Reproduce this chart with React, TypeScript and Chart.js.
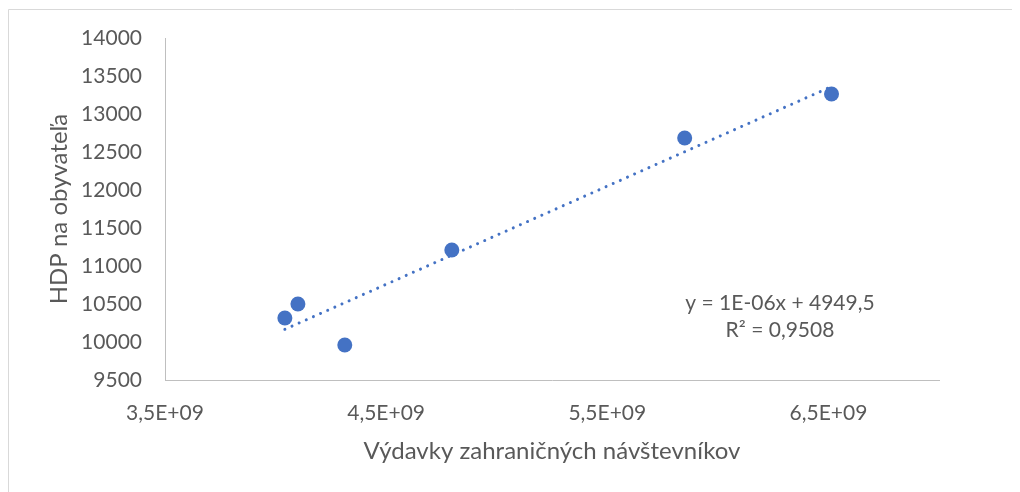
import React, { useEffect, useRef } from "react";
import { Chart, registerables } from "chart.js";

Chart.register(...registerables);

// Data
const spending: number[] = [4.042e9, 4.101e9, 4.313e9, 4.797e9, 5.85e9, 6.514e9];
const gdpPerCapita: number[] = [10316, 10500, 9961, 11211, 12684, 13263];

const xTickValues: number[] = [3.5e9, 4.5e9, 5.5e9, 6.5e9];
const xTickLabels: string[] = ["3,5E+09", "4,5E+09", "5,5E+09", "6,5E+09"];
const xMin = 3.5e9;
const xMax = 7.0e9;
const yMin = 9500;
const yMax = 14000;
const yStep = 500;

const xTitle = "Výdavky zahraničných návštevníkov";
const yTitle = "HDP na obyvateľa";
const equationLines: string[] = ["y = 1E-06x + 4949,5", "R² = 0,9508"];

const BLUE = "#4472C4";
const GREY_TEXT = "#595959";
const FONT = "Lato, 'Open Sans', sans-serif";

function linearFit(xs: number[], ys: number[]) {
  const n = xs.length;
  const mx = xs.reduce((a, b) => a + b, 0) / n;
  const my = ys.reduce((a, b) => a + b, 0) / n;
  let sxy = 0;
  let sxx = 0;
  for (let i = 0; i < n; i++) {
    sxy += (xs[i] - mx) * (ys[i] - my);
    sxx += (xs[i] - mx) * (xs[i] - mx);
  }
  const slope = sxy / sxx;
  return { slope, intercept: my - slope * mx };
}

export default function App() {
  const ref = useRef<HTMLCanvasElement | null>(null);

  useEffect(() => {
    if (!ref.current) return;
    const fit = linearFit(spending, gdpPerCapita);
    const x0 = Math.min(...spending);
    const x1 = Math.max(...spending);
    const trend = [
      { x: x0, y: fit.slope * x0 + fit.intercept },
      { x: x1, y: fit.slope * x1 + fit.intercept },
    ];

    const framePlugin = {
      id: "frame",
      beforeDraw(chart: any) {
        const { ctx, width, height } = chart;
        ctx.save();
        ctx.fillStyle = "#ffffff";
        ctx.fillRect(0, 0, width, height);
        ctx.strokeStyle = "#d9d9d9";
        ctx.lineWidth = 1;
        ctx.beginPath();
        ctx.moveTo(0.5, height);
        ctx.lineTo(0.5, 1.5);
        ctx.lineTo(width, 1.5);
        ctx.stroke();
        ctx.restore();
      },
      afterDraw(chart: any) {
        const { ctx } = chart;
        ctx.save();
        ctx.fillStyle = GREY_TEXT;
        ctx.font = `21px ${FONT}`;
        ctx.textAlign = "center";
        ctx.textBaseline = "middle";
        ctx.fillText(equationLines[0], 772, 295);
        ctx.fillText(equationLines[1], 772, 322);
        ctx.restore();
      },
    };

    const chart = new Chart(ref.current, {
      type: "scatter",
      data: {
        datasets: [
          {
            label: "trend",
            data: trend,
            showLine: true,
            borderColor: BLUE,
            borderWidth: 3,
            borderDash: [0.01, 7.8],
            borderCapStyle: "round",
            pointRadius: 0,
            fill: false,
            order: 2,
          } as any,
          {
            label: "data",
            data: spending.map((x, i) => ({ x, y: gdpPerCapita[i] })),
            backgroundColor: BLUE,
            borderColor: BLUE,
            pointRadius: 7.5,
            pointBorderWidth: 0,
            order: 1,
          },
        ],
      },
      options: {
        animation: false,
        responsive: false,
        layout: { padding: { left: 0, top: 30, right: 81, bottom: 0 } },
        plugins: {
          legend: { display: false },
          tooltip: { enabled: false },
        },
        scales: {
          x: {
            type: "linear",
            min: xMin,
            max: xMax,
            afterBuildTicks(scale: any) {
              scale.ticks = xTickValues.map((v) => ({ value: v }));
            },
            afterFit(scale: any) {
              scale.height = 112;
              scale.paddingLeft = 0;
              scale.paddingRight = 0;
            },
            grid: { display: false, drawTicks: false },
            border: { display: true, color: "#bfbfbf", width: 1 },
            ticks: {
              color: GREY_TEXT,
              font: { family: FONT, size: 21 },
              padding: 21,
              maxRotation: 0,
              autoSkip: false,
              callback: (v: any) => {
                const i = xTickValues.indexOf(Number(v));
                return i >= 0 ? xTickLabels[i] : "";
              },
            },
            title: {
              display: true,
              text: xTitle,
              color: GREY_TEXT,
              font: { family: FONT, size: 24 },
              padding: { top: 0, bottom: 26 },
            },
          },
          y: {
            type: "linear",
            min: yMin,
            max: yMax,
            afterFit(scale: any) {
              scale.width = 157;
              scale.paddingTop = 0;
              scale.paddingBottom = 0;
            },
            grid: { display: false, drawTicks: false },
            border: { display: true, color: "#bfbfbf", width: 1 },
            ticks: {
              stepSize: yStep,
              color: GREY_TEXT,
              font: { family: FONT, size: 21 },
              padding: 23,
              callback: (v: any) => String(v),
            },
            title: {
              display: true,
              text: yTitle,
              color: GREY_TEXT,
              font: { family: FONT, size: 24 },
              padding: { top: 37, bottom: 0 },
            },
          },
        },
      },
      plugins: [framePlugin],
    });
    return () => chart.destroy();
  }, []);

  return (
    <div style={{ width: 1012, height: 484 }}>
      <canvas ref={ref} width={1012} height={484} style={{ width: 1012, height: 484, display: "block" }} />
    </div>
  );
}
